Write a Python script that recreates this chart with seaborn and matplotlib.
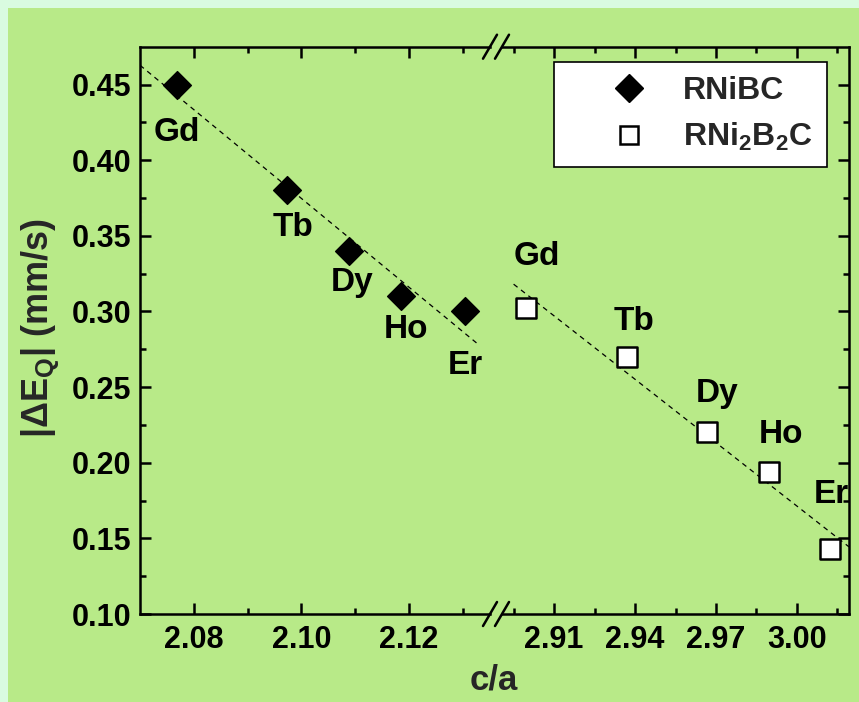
import numpy as np
import matplotlib
matplotlib.use("Agg")
import matplotlib.pyplot as plt
import seaborn as sns
from matplotlib.lines import Line2D
from matplotlib.ticker import FixedLocator
from matplotlib.patches import Rectangle

# Rare-earth series and quadrupole splittings
elements = ["Gd", "Tb", "Dy", "Ho", "Er"]
ca_rnibc = [2.0769, 2.0973, 2.1089, 2.1185, 2.1304]
deq_rnibc = [0.450, 0.380, 0.340, 0.310, 0.300]
ca_rni2b2c = [2.8996, 2.9370, 2.9667, 2.9896, 3.0122]
deq_rni2b2c = [0.302, 0.270, 0.220, 0.194, 0.143]

left_major = [2.08, 2.10, 2.12]
left_minor = [2.09, 2.11, 2.13]
right_major = [2.91, 2.94, 2.97, 3.00]
right_minor = [2.895, 2.925, 2.955, 2.985, 3.015]
y_major = [0.10, 0.15, 0.20, 0.25, 0.30, 0.35, 0.40, 0.45]
y_minor = [0.125, 0.175, 0.225, 0.275, 0.325, 0.375, 0.425]

fit_span_rnibc = [2.0700, 2.1330]
fit_span_rni2b2c = [2.8950, 3.0193]

GREEN = "#b8ea88"
MINT = "#d9fbe0"

sns.set_theme(style="ticks")
plt.rcParams["font.family"] = ["Liberation Sans", "DejaVu Sans"]
plt.rcParams["font.weight"] = "bold"
plt.rcParams["mathtext.fontset"] = "custom"
plt.rcParams["mathtext.rm"] = "Liberation Sans:bold"
plt.rcParams["mathtext.it"] = "Liberation Sans:bold"
plt.rcParams["mathtext.bf"] = "Liberation Sans:bold"

W, H = 859, 702
fig = plt.figure(figsize=(W / 100, H / 100), dpi=100, facecolor=GREEN)

# pale frame along the top and left edges
fig.patches.append(Rectangle((0, 0), 8 / W, 1, transform=fig.transFigure,
                             facecolor=MINT, edgecolor="none", zorder=0))
fig.patches.append(Rectangle((0, 1 - 8 / H), 1, 8 / H, transform=fig.transFigure,
                             facecolor=MINT, edgecolor="none", zorder=0))

ax_bottom, ax_top = 614, 46.7
bot = (H - ax_bottom) / H
hgt = (ax_bottom - ax_top) / H
axl = fig.add_axes([140 / W, bot, (490 - 140) / W, hgt])
axr = fig.add_axes([502 / W, bot, (849 - 502) / W, hgt], sharey=axl)

for ax in (axl, axr):
    ax.set_facecolor("none")
    for sp in ax.spines.values():
        sp.set_linewidth(1.8)
        sp.set_color("black")
    ax.tick_params(which="both", direction="in", top=True, width=1.8,
                   colors="black", labelsize=22)
    ax.tick_params(which="major", length=8)
    ax.tick_params(which="minor", length=4)
    ax.tick_params(axis="x", pad=8)

axl.spines["right"].set_visible(False)
axr.spines["left"].set_visible(False)
axl.tick_params(axis="y", right=False, left=True, which="both", pad=6)
axr.tick_params(axis="y", left=False, right=True, labelleft=False, which="both")

axl.set_xlim(2.0700, 2.1351)
axr.set_xlim(2.8907, 3.0193)
axl.set_ylim(0.10, 0.475)

axl.xaxis.set_major_locator(FixedLocator(left_major))
axl.xaxis.set_minor_locator(FixedLocator(left_minor))
axr.xaxis.set_major_locator(FixedLocator(right_major))
axr.xaxis.set_minor_locator(FixedLocator(right_minor))
axl.yaxis.set_major_locator(FixedLocator(y_major))
axl.yaxis.set_minor_locator(FixedLocator(y_minor))
axl.set_xticklabels([f"{v:.2f}" for v in left_major])
axr.set_xticklabels([f"{v:.2f}" for v in right_major])
axl.set_yticklabels([f"{v:.2f}" for v in y_major])
for lab in axl.get_xticklabels() + axr.get_xticklabels() + axl.get_yticklabels():
    lab.set_fontweight("bold")

# linear trends
for ax, xs, ys, span in ((axl, ca_rnibc, deq_rnibc, fit_span_rnibc),
                         (axr, ca_rni2b2c, deq_rni2b2c, fit_span_rni2b2c)):
    k, b = np.polyfit(xs, ys, 1)
    fx = np.array(span)
    ax.plot(fx, k * fx + b, color="black", lw=0.9, dashes=(4, 3.5), zorder=2)

sns.scatterplot(x=ca_rnibc, y=deq_rnibc, ax=axl, marker="D", s=200,
                color="black", edgecolor="black", linewidth=1, zorder=3,
                legend=False)
sns.scatterplot(x=ca_rni2b2c, y=deq_rni2b2c, ax=axr, marker="s", s=190,
                color="white", edgecolor="black", linewidth=1.8, zorder=3,
                legend=False)

# element labels
offs_rnibc = [(0, -48), (6, -37), (3, -32), (5, -33), (1, -54)]
offs_rni2b2c = [(11, 52), (7, 35), (10, 39), (12, 37), (2, 54)]
for x, y, el, (dx, dy) in zip(ca_rnibc, deq_rnibc, elements, offs_rnibc):
    axl.annotate(el, (x, y), xytext=(dx * 0.72, dy * 0.72),
                 textcoords="offset points", ha="center", va="center",
                 fontsize=24, fontweight="bold", color="black")
for x, y, el, (dx, dy) in zip(ca_rni2b2c, deq_rni2b2c, elements, offs_rni2b2c):
    axr.annotate(el, (x, y), xytext=(dx * 0.72, dy * 0.72),
                 textcoords="offset points", ha="center", va="center",
                 fontsize=24, fontweight="bold", color="black",
                 annotation_clip=False)

handles = [
    Line2D([], [], ls="none", marker="D", ms=14, mfc="black", mec="black"),
    Line2D([], [], ls="none", marker="s", ms=13.5, mfc="white", mec="black", mew=1.8),
]
leg = axr.legend(handles, ["RNiBC", r"RNi$_2$B$_2$C"],
                 loc="upper right", bbox_to_anchor=(0.937, 0.973),
                 prop={"size": 23, "weight": "bold"}, frameon=True,
                 fancybox=False, edgecolor="black", framealpha=1,
                 borderpad=0.45, labelspacing=0.45, handlelength=3.8,
                 handletextpad=-0.2, borderaxespad=0)
leg.get_frame().set_linewidth(1.2)
leg.get_frame().set_facecolor("white")

# axis-break marks
def px(x, y):
    return x / W, 1 - y / H

for yc in (ax_bottom, ax_top):
    for x0 in (483, 495):
        (a, b_), (c, d) = px(x0, yc + 12), px(x0 + 14, yc - 12)
        fig.add_artist(Line2D([a, c], [b_, d], color="black", lw=1.8,
                              transform=fig.transFigure))

fig.text(494 / W, 1 - 680 / H, "c/a", ha="center", va="center",
         fontsize=25, fontweight="bold")
fig.text(40 / W, 1 - 328 / H, r"|ΔE$_Q$| (mm/s)", ha="center", va="center",
         rotation=90, fontsize=26, fontweight="bold")

fig.savefig("out.png", dpi=100, facecolor=GREEN)
